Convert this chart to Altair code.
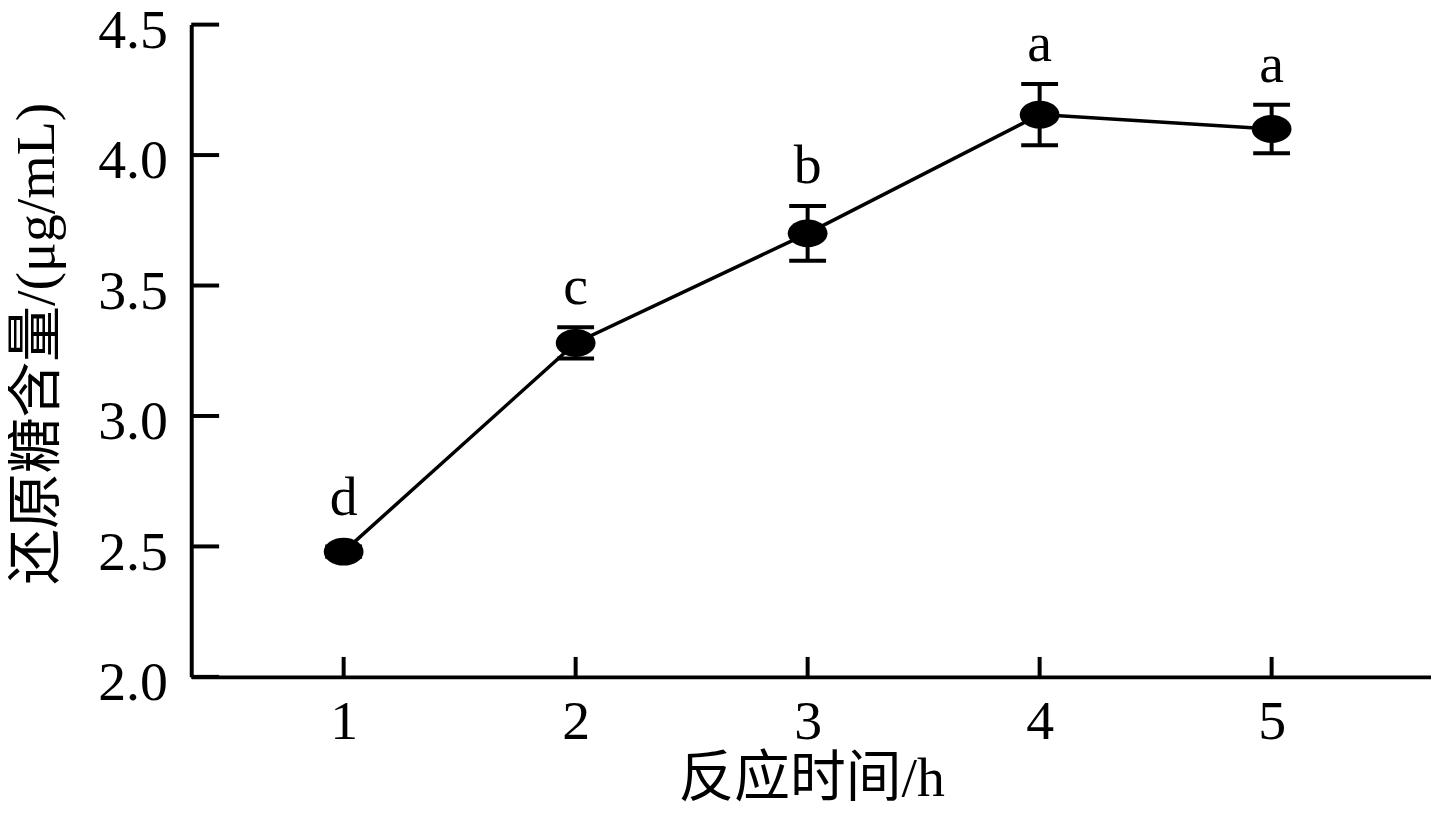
import altair as alt
import pandas as pd

# ---- data ----
time_h = [1, 2, 3, 4, 5]
sugar = [2.48, 3.28, 3.70, 4.155, 4.10]
sd = [0.02, 0.06, 0.105, 0.117, 0.093]
letters = ["d", "c", "b", "a", "a"]
x_ticks = [1, 2, 3, 4, 5]
y_ticks = [2.0, 2.5, 3.0, 3.5, 4.0, 4.5]

W, H = 1245, 655
FONT = "Liberation Serif"
CJK = "Liberation Serif, Noto Sans CJK SC"
ELLIPSE = "M -1 0 A 1 0.7 0 1 0 1 0 A 1 0.7 0 1 0 -1 0 Z"

df = pd.DataFrame({"t": time_h, "v": sugar, "e": sd, "lab": letters})
df["lo"] = df["v"] - df["e"]
df["hi"] = df["v"] + df["e"]

xs = alt.Scale(domain=[0.343, 5.687], nice=False, zero=False)
ys = alt.Scale(domain=[2.0, 4.5], nice=False, zero=False)

base = alt.Chart(df)

x_axis = alt.Axis(
    values=x_ticks, format="d", title="反应时间/h", grid=False,
    domainColor="black", domainWidth=4, ticks=False, tickSize=0,
    labelFont=FONT, labelFontSize=56, labelColor="black", labelPadding=18,
    labelFlush=False, labelOverlap=False,
    titleFont=CJK, titleFontSize=56, titleFontWeight="normal", titleColor="black",
    titleBaseline="alphabetic", titleY=119,
)
y_axis = alt.Axis(
    values=y_ticks, format=".1f", title="还原糖含量/(μg/mL)", grid=False,
    domainColor="black", domainWidth=4, ticks=False, tickSize=0,
    labelFont=FONT, labelFontSize=56, labelColor="black", labelPadding=24,
    labelOffset=6, labelFlush=False, labelOverlap=False,
    titleFont=CJK, titleFontSize=56, titleFontWeight="normal", titleColor="black",
    titleAngle=270, titleX=-155, titleY=320, titleAlign="center", titleBaseline="middle",
)

line = base.mark_line(color="black", strokeWidth=3.5).encode(
    x=alt.X("t:Q", scale=xs, axis=x_axis),
    y=alt.Y("v:Q", scale=ys, axis=y_axis),
)
bars = base.mark_rule(color="black", strokeWidth=4).encode(
    x=alt.X("t:Q", scale=xs), y=alt.Y("lo:Q", scale=ys), y2="hi:Q"
)
cap_hi = base.mark_tick(orient="horizontal", color="black", size=37, thickness=4, opacity=1).encode(
    x=alt.X("t:Q", scale=xs), y=alt.Y("hi:Q", scale=ys)
)
cap_lo = base.mark_tick(orient="horizontal", color="black", size=37, thickness=4, opacity=1).encode(
    x=alt.X("t:Q", scale=xs), y=alt.Y("lo:Q", scale=ys)
)
points = base.mark_point(shape=ELLIPSE, size=1600, filled=True, color="black",
                         opacity=1, strokeWidth=0).encode(
    x=alt.X("t:Q", scale=xs), y=alt.Y("v:Q", scale=ys)
)
labels = base.transform_calculate(
    ly="max(datum.hi, datum.v + 0.053)"
).mark_text(font=FONT, fontSize=56, baseline="alphabetic", align="center",
            dy=-23, color="black").encode(
    x=alt.X("t:Q", scale=xs), y=alt.Y("ly:Q", scale=ys), text="lab:N"
)

ytick_rules = alt.Chart(pd.DataFrame({"yt": y_ticks})).mark_rule(
    color="black", strokeWidth=4
).encode(y=alt.Y("yt:Q", scale=ys), x=alt.value(0), x2=alt.value(28))
xtick_rules = alt.Chart(pd.DataFrame({"xt": x_ticks})).mark_rule(
    color="black", strokeWidth=4
).encode(x=alt.X("xt:Q", scale=xs), y=alt.value(H), y2=alt.value(H - 20))

chart = alt.layer(
    line, bars, cap_hi, cap_lo, points, labels, ytick_rules, xtick_rules
).properties(
    width=W, height=H,
    background="white",
    autosize=alt.AutoSizeParams(type="none"),
    padding={"left": 184, "top": 15, "right": 0, "bottom": 133},
).configure_view(strokeWidth=0, stroke="transparent")

chart.save("out.html", embed_options={"renderer": "svg", "actions": False})
